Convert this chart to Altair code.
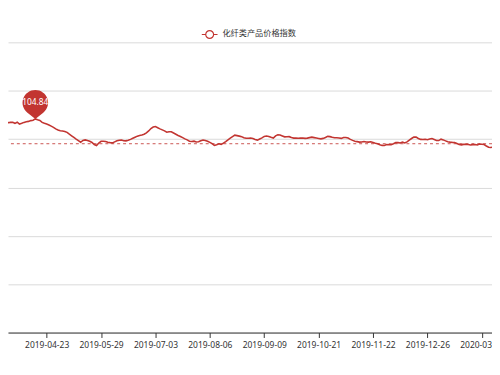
import altair as alt
import pandas as pd

# ---------------- data ----------------
SERIES_NAME = "化纤类产品价格指数"

# category index of the first value below (index 0 == 2019-03-19)
START_INDEX = 3
VALUES = [
    104.32, 104.25, 104.25, 104.49, 103.94, 104.01, 104.01, 103.78, 104.06, 103.59,
    103.78, 104.01, 104.18, 104.25, 104.44, 104.53, 104.84, 104.65, 104.49, 104.01,
    103.78, 103.61, 103.40, 103.12, 102.83, 102.46, 102.17, 102.01, 101.94, 101.84,
    101.61, 101.18, 100.80, 100.40, 100.00, 99.62, 99.24, 99.67, 99.81, 99.67,
    99.48, 99.20, 98.70, 98.47, 99.06, 99.48, 99.48, 99.41, 99.24, 99.15,
    99.10, 99.34, 99.58, 99.72, 99.76, 99.60, 99.58, 99.72, 99.93, 100.19,
    100.45, 100.71, 100.87, 100.99, 101.16, 101.51, 101.96, 102.53, 102.88, 103.00,
    102.74, 102.46, 102.22, 101.98, 101.65, 101.75, 101.75, 101.46, 101.16, 100.87,
    100.64, 100.35, 100.05, 99.81, 99.48, 99.41, 99.50, 99.29, 99.36, 99.58,
    99.79, 99.69, 99.50, 99.22, 98.91, 98.47, 98.65, 98.87, 98.75, 99.03,
    99.41, 99.83, 100.21, 100.59, 100.94, 100.83, 100.71, 100.59, 100.31, 100.19,
    100.19, 100.28, 100.12, 99.93, 99.76, 100.02, 100.28, 100.64, 100.76, 100.64,
    100.42, 100.24, 100.78, 101.02, 100.99, 100.76, 100.54, 100.57, 100.59, 100.38,
    100.24, 100.28, 100.19, 100.24, 100.26, 100.17, 100.24, 100.35, 100.47, 100.35,
    100.24, 100.14, 100.05, 100.17, 100.38, 100.66, 100.59, 100.42, 100.31, 100.31,
    100.26, 100.17, 100.38, 100.40, 100.24, 99.93, 99.69, 99.50, 99.39, 99.27,
    99.29, 99.43, 99.32, 99.27, 99.36, 99.20, 98.98, 98.87, 98.65, 98.49,
    98.47, 98.70, 98.63, 98.65, 98.89, 99.15, 99.15, 99.06, 99.29, 99.08,
    99.34, 99.76, 100.14, 100.47, 100.47, 100.14, 99.93, 99.91, 99.98, 99.86,
    100.00, 100.12, 99.91, 99.67, 99.65, 99.98, 99.81, 99.58, 99.36, 99.27,
    99.22, 99.20, 98.96, 98.73, 98.61, 98.73, 98.75, 98.70, 98.58, 98.68,
    98.70, 98.58, 98.82, 98.77, 98.70, 98.35, 98.06, 97.97, 98.11,
]

# x-axis tick labels, one every TICK_STEP categories
TICK_STEP = 24
TICK_DATES = [
    "2019-03-19", "2019-04-23", "2019-05-29", "2019-07-03", "2019-08-06",
    "2019-09-09", "2019-10-21", "2019-11-22", "2019-12-26", "2020-03-05",
]

AVG_VALUE = 98.89          # dashed "average" mark line

# visible window of the (cropped) chart
X_VIEW = [6.94, 220.49]
GRID_STEP = 11.607
Y_VIEW = [100 - 4 * GRID_STEP, 100 + 2 * GRID_STEP]

# ---------------- styling ----------------
RED = "#c23531"
FONT = "Noto Sans CJK SC"
PIN_PATH = "M 0 0 L -0.617 -0.483 A 1 1 0 1 1 0.617 -0.483 Z"
LEGEND_PATH = ("M -1 0 L -0.5 0 M 0.5 0 L 1 0 "
               "M -0.5 0 A 0.5 0.5 0 1 1 0.5 0 A 0.5 0.5 0 1 1 -0.5 0 Z")

df = pd.DataFrame({
    "idx": list(range(START_INDEX, START_INDEX + len(VALUES))),
    "value": VALUES,
    "series": [SERIES_NAME] * len(VALUES),
})
peak = df[df["value"] == df["value"].max()]
avg_df = pd.DataFrame({"avg": [AVG_VALUE]})

tick_idx = [k * TICK_STEP for k in range(len(TICK_DATES))]
label_expr = ("[" + ",".join("'" + d + "'" for d in TICK_DATES) + "]"
              f"[round(datum.value / {TICK_STEP})]")

x_enc = alt.X(
    "idx:Q",
    scale=alt.Scale(domain=X_VIEW, nice=False, zero=False),
    axis=alt.Axis(values=tick_idx, labelExpr=label_expr, title=None, grid=False,
                  labelFlush=False, labelOverlap=False, tickSize=5,
                  labelPadding=3, zindex=2),
)
y_enc = alt.Y(
    "value:Q",
    scale=alt.Scale(domain=Y_VIEW, nice=False, zero=False),
    axis=alt.Axis(values=[Y_VIEW[0] + k * GRID_STEP for k in range(7)],
                  labels=False, ticks=False, domain=False, title=None,
                  grid=True, gridColor="#d9d9d9", gridWidth=1),
)

avg_rule = alt.Chart(avg_df).mark_rule(
    color=RED, strokeDash=[3, 3], strokeWidth=1, opacity=0.85
).encode(y=alt.Y("avg:Q", scale=alt.Scale(domain=Y_VIEW, nice=False, zero=False)))

line = alt.Chart(df).mark_line(clip=True, strokeWidth=1.6).encode(
    x=x_enc,
    y=y_enc,
    color=alt.Color(
        "series:N",
        scale=alt.Scale(range=[RED]),
        legend=alt.Legend(
            title=None, orient="none", legendX=196, legendY=-17,
            direction="horizontal", symbolType=LEGEND_PATH, symbolSize=256,
            symbolStrokeWidth=1.2, symbolFillColor="white",
            labelFont=FONT, labelFontSize=8.3, labelColor="#333", padding=0,
        ),
    ),
)

pin = alt.Chart(peak).mark_point(
    shape=PIN_PATH, size=676, filled=True, color=RED, opacity=1
).encode(x="idx:Q", y="value:Q")

pin_text = alt.Chart(peak).mark_text(
    dy=-17, color="white", fontSize=8.5, font="Noto Sans", baseline="middle"
).encode(x="idx:Q", y="value:Q", text=alt.Text("value:Q", format=".2f"))

chart = alt.layer(avg_rule, line, pin, pin_text).properties(
    width=492,
    height=295,
    padding={"left": 0, "right": 0, "top": 32, "bottom": 28},
    autosize=alt.AutoSizeParams(type="none"),
).configure_view(stroke=None).configure_axis(
    labelFont="Noto Sans", labelFontSize=8.6, labelColor="#333",
    domainColor="#333", tickColor="#333",
)

chart.save("out.html", embed_options={"renderer": "svg", "actions": False})
